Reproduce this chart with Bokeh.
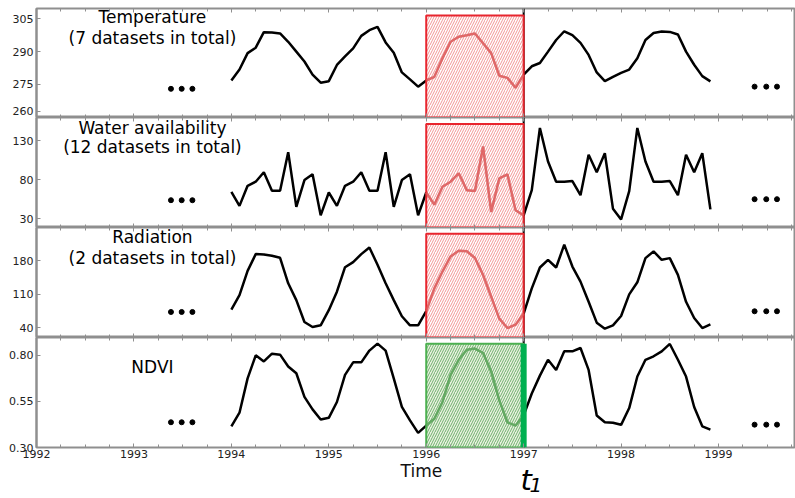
import numpy as np
from bokeh.plotting import figure
from bokeh.layouts import column
from bokeh.core.properties import value
from bokeh.models import (Range1d, FixedTicker, SingleIntervalTicker, LinearAxis,
                          Span, PrintfTickFormatter)
from bokeh.embed import file_html
from bokeh.resources import INLINE

# ---------------- data ----------------
time = 1994 + np.arange(60) / 12.0   # monthly samples 1994-01 .. 1998-12

temperature = [276.8, 281.8, 289.3, 291.8, 298.9, 298.7, 298.3, 294.5, 290.0, 285.5, 279.5, 275.8,
               276.5, 283.9, 287.8, 291.5, 297.2, 299.8, 301.3, 294.2, 289.5, 280.5, 277.3, 274.0,
               276.8, 278.5, 287.0, 294.5, 296.8, 297.5, 298.3, 293.8, 289.3, 279.0, 278.0, 273.5,
               279.5, 283.3, 284.8, 290.0, 295.3, 299.3, 297.5, 294.0, 288.5, 280.5, 276.5, 278.5,
               280.3, 281.8, 287.0, 295.3, 298.5, 299.2, 299.0, 297.8, 290.0, 284.0, 278.8, 276.4]

water = [64.5, 46.4, 72.2, 77.4, 89.5, 65.8, 65.8, 115.3, 45.1, 79.6, 86.9, 34.3,
         63.6, 46.4, 72.2, 77.4, 89.5, 65.8, 65.8, 115.3, 45.1, 79.6, 86.9, 34.3,
         63.6, 48.0, 71.0, 77.4, 88.2, 66.6, 65.4, 122.7, 38.6, 81.7, 86.9, 40.8,
         34.3, 66.6, 146.4, 103.3, 77.4, 77.4, 78.3, 60.2, 111.9, 89.5, 114.0, 42.9,
         29.1, 65.4, 146.4, 103.3, 77.4, 77.4, 78.3, 60.2, 111.9, 89.5, 114.0, 42.0]

radiation = [78.0, 108.2, 158.9, 194.0, 193.4, 190.6, 186.3, 132.9, 97.7, 52.0, 41.4, 45.0,
             76.6, 115.3, 166.6, 177.2, 194.0, 208.0, 171.6, 132.9, 97.7, 64.0, 45.0, 45.0,
             74.5, 122.3, 157.5, 189.1, 201.0, 200.0, 186.0, 150.5, 104.7, 59.0, 39.3, 46.3,
             69.5, 122.3, 166.0, 182.1, 166.0, 213.8, 168.0, 136.4, 94.2, 50.6, 37.9, 45.0,
             64.6, 109.7, 135.0, 185.6, 199.7, 182.1, 185.6, 150.5, 94.2, 60.4, 39.3, 47.0]

ndvi = [0.415, 0.489, 0.675, 0.800, 0.767, 0.809, 0.804, 0.740, 0.703, 0.575, 0.507, 0.452,
        0.461, 0.547, 0.694, 0.762, 0.762, 0.826, 0.864, 0.826, 0.675, 0.520, 0.447, 0.379,
        0.419, 0.456, 0.547, 0.694, 0.776, 0.831, 0.837, 0.813, 0.712, 0.556, 0.437, 0.419,
        0.474, 0.593, 0.690, 0.776, 0.721, 0.822, 0.822, 0.840, 0.721, 0.474, 0.437, 0.434,
        0.423, 0.514, 0.685, 0.776, 0.795, 0.822, 0.862, 0.776, 0.685, 0.520, 0.415, 0.397]

temp_ticks = [260, 275, 290, 305]
water_ticks = [30, 80, 130]
rad_ticks = [40, 110, 180]
ndvi_ticks = [0.30, 0.55, 0.80]

window_start, window_end = 1996.0, 1997.0
t1 = 1997.0
dots_left = [1993.38, 1993.49, 1993.60]
dots_right = [1999.37, 1999.49, 1999.60]

# ---------------- layout / style ----------------
FONT = "DejaVu Sans"
GRAY = "#8f8f8f"
W = 795
LEFT = 36
X0, X1 = 1992.0, 1999.79
TX = 1993.19

panels = [
    dict(values=temperature, yr=(259.9, 309.7), ticks=temp_ticks, fmt="%d",
         title=["Temperature", "(7 datasets in total)"], title_y=[305.6, 296.2],
         dot_y=(273.0, 274.0), box_top=306.5, green=False, height=117, mt=8, mb=0,
         edge_lift=2.7),
    dict(values=water, yr=(18.7, 159.8), ticks=water_ticks, fmt="%d",
         title=["Water availability", "(12 datasets in total)"], title_y=[146.8, 122.2],
         dot_y=(53.7, 55.0), box_top=151.6, green=False, height=110, mt=0, mb=0,
         edge_lift=0),
    dict(values=radiation, yr=(19.5, 249.7), ticks=rad_ticks, fmt="%d",
         title=["Radiation", "(2 datasets in total)"], title_y=[229.6, 186.3],
         dot_y=(72.9, 74.4), box_top=236.4, green=False, height=110, mt=0, mb=0,
         edge_lift=0),
    dict(values=ndvi, yr=(0.30, 0.897), ticks=ndvi_ticks, fmt="%.2f",
         title=["NDVI"], title_y=[0.735],
         dot_y=(0.437, 0.424), box_top=0.863, green=True, height=125, mt=0, mb=15,
         edge_lift=0),
]

t = np.asarray(time)
in_win = (t >= window_start - 1e-9) & (t <= window_end + 1e-9)


def hide_labels(ax):
    ax.major_label_text_color = None
    ax.major_label_text_font_size = "0px"
    ax.major_label_standoff = 0


figs = []
for k, cfg in enumerate(panels):
    last = (k == len(panels) - 1)
    vals = np.asarray(cfg["values"])
    ylo, yhi = cfg["yr"]
    p = figure(width=W, height=cfg["height"], x_range=Range1d(X0, X1),
               y_range=Range1d(ylo, yhi), output_backend="svg", toolbar_location=None,
               min_border_left=LEFT, min_border_right=0, min_border_top=cfg["mt"],
               min_border_bottom=cfg["mb"])
    p.grid.visible = False
    p.outline_line_color = GRAY
    p.outline_line_width = 2

    ya = p.yaxis[0]
    ticks = list(cfg["ticks"])
    overrides = {}
    if cfg["edge_lift"]:
        # the lowest label sits on the panel edge: lift it a little so it stays on the canvas
        lifted = ticks[0] + cfg["edge_lift"]
        overrides[lifted] = cfg["fmt"] % ticks[0]
        ticks[0] = lifted
    ya.ticker = FixedTicker(ticks=ticks)
    ya.formatter = PrintfTickFormatter(format=cfg["fmt"])
    if overrides:
        ya.major_label_overrides = overrides
    ya.minor_tick_line_color = None
    ya.major_tick_in = 4
    ya.major_tick_out = 0
    ya.major_tick_line_color = GRAY
    ya.axis_line_color = GRAY
    ya.axis_line_width = 2
    ya.major_label_standoff = 3
    ya.major_label_text_font = FONT
    ya.major_label_text_font_size = "11px"
    ya.major_label_text_color = "#222222"

    xa = p.xaxis[0]
    above = LinearAxis()
    p.add_layout(above, "above")
    for ax in (xa, above):
        ax.ticker = SingleIntervalTicker(interval=1, num_minor_ticks=4)
        ax.major_tick_in = 4
        ax.major_tick_out = 0
        ax.minor_tick_in = 3
        ax.minor_tick_out = 0
        ax.major_tick_line_color = GRAY
        ax.minor_tick_line_color = GRAY
        ax.axis_line_color = None
    hide_labels(above)
    if last:
        xa.major_label_standoff = 2
        xa.major_label_text_font = FONT
        xa.major_label_text_font_size = "11px"
        xa.major_label_text_color = "#222222"
    else:
        hide_labels(xa)

    p.add_layout(Span(location=t1, dimension="height", line_color="black",
                      line_width=2, level="underlay"))

    p.line(t, vals, line_color="black", line_width=2.5)

    if cfg["green"]:
        edge, hatch, fill, seg = "#4cb050", "#4f9f4f", "#e6f1dc", "#55a555"
    else:
        edge, hatch, fill, seg = "#e8252e", "#f07a7a", "#ffffff", "#e05252"
    p.quad(left=[window_start], right=[window_end], bottom=[ylo], top=[cfg["box_top"]],
           fill_color=fill, fill_alpha=0.85, line_color=edge, line_width=2,
           hatch_pattern="/", hatch_color=hatch, hatch_scale=5, hatch_weight=1,
           hatch_alpha=0.8)
    p.line(t[in_win], vals[in_win], line_color=seg, line_width=2.5, line_alpha=0.8)
    if cfg["green"]:
        p.segment(x0=[t1], y0=[ylo], x1=[t1], y1=[cfg["box_top"]],
                  line_color="#00b050", line_width=6)

    p.scatter(dots_left, [cfg["dot_y"][0]] * 3, size=5, color="black")
    p.scatter(dots_right, [cfg["dot_y"][1]] * 3, size=5, color="black")

    p.text(x=[TX] * len(cfg["title"]), y=cfg["title_y"], text=cfg["title"],
           text_align="center", text_baseline="middle", text_font=value(FONT),
           text_font_size="17px", text_color="black")
    figs.append(p)

# strip below the last panel holding the axis title and the t1 marker label
s = figure(width=W, height=35, x_range=Range1d(X0, X1), y_range=Range1d(0, 1),
           output_backend="svg", toolbar_location=None,
           min_border_left=LEFT, min_border_right=0, min_border_top=0, min_border_bottom=0)
s.axis.visible = False
s.grid.visible = False
s.outline_line_color = None
s.text(x=[1995.95], y=[0.743], text=["Time"], text_align="center", text_baseline="middle",
       text_font=value(FONT), text_font_size="17px", text_color="#111111")
s.text(x=[t1 - 0.032], y=[0.5], text=["t"], text_align="left", text_baseline="middle",
       text_font=value(FONT), text_font_size="29px", text_font_style="italic",
       text_color="black")
s.text(x=[t1 + 0.06], y=[0.343], text=["1"], text_align="left", text_baseline="middle",
       text_font=value(FONT), text_font_size="20px", text_font_style="italic",
       text_color="black")
figs.append(s)

layout = column(*figs, spacing=0)
open("out.html", "w").write(file_html(layout, INLINE))
